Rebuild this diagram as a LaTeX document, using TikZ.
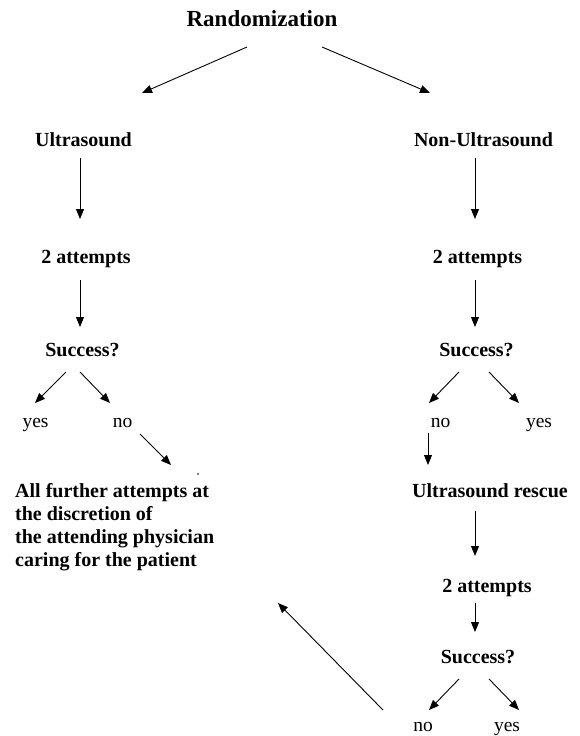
\documentclass[tikz,border=0pt]{standalone}
\usepackage{fontspec}
\setmainfont{Liberation Serif}
\usetikzlibrary{arrows.meta}
\begin{document}
\begin{tikzpicture}[x=1pt,y=-1pt,
  arr/.style={line width=0.9pt,-{Triangle[length=10pt,width=8pt]}},
  title/.style={anchor=base,inner sep=0pt,font=\fontsize{23}{27}\selectfont\bfseries},
  lab/.style={anchor=base,inner sep=0pt,font=\fontsize{20}{23}\selectfont\bfseries},
  ans/.style={anchor=base,inner sep=0pt,font=\fontsize{19.5}{23}\selectfont}]
\useasboundingbox (0,0) rectangle (579,736);
% nodes
\node[title] (rand) at (262,27) {Randomization};
\node[lab] (us) at (83.5,146) {Ultrasound};
\node[lab] (nus) at (483.5,146) {Non-Ultrasound};
\node[lab] (att1) at (86,263) {2 attempts};
\node[lab] (att2) at (477.5,263) {2 attempts};
\node[lab] (suc1) at (82.5,356) {Success?};
\node[lab] (suc2) at (476.5,356) {Success?};
\node[ans] (yes1) at (35.5,427) {yes};
\node[ans] (no1) at (122.5,427) {no};
\node[ans] (no2) at (440.5,427) {no};
\node[ans] (yes2) at (539,427) {yes};
\node[lab,anchor=north west,align=left,font=\fontsize{20}{23}\selectfont\bfseries] (disc) at (15,483.5)
  {All further attempts at\\the discretion of\\the attending physician\\caring for the patient};
\node[lab] (resc) at (490,497) {Ultrasound rescue};
\node[lab] (att3) at (487,592) {2 attempts};
\node[lab] (suc3) at (478,663) {Success?};
\node[ans] (no3) at (423,731) {no};
\node[ans] (yes3) at (507,731) {yes};
\fill (198,474) circle (0.8);
% connector end points
\coordinate (a1) at (247,47);  \coordinate (b1) at (142,93);
\coordinate (a2) at (322,47);  \coordinate (b2) at (430,93);
\coordinate (a3) at (80,158);  \coordinate (b3) at (80,219);
\coordinate (a4) at (475,158); \coordinate (b4) at (475,219);
\coordinate (a5) at (80,280);  \coordinate (b5) at (80,327);
\coordinate (a6) at (475,280); \coordinate (b6) at (475,327);
\coordinate (a7) at (66,372);  \coordinate (b7) at (35,403);
\coordinate (a8) at (80,372);  \coordinate (b8) at (110,403);
\coordinate (a9) at (459,372); \coordinate (b9) at (429,403);
\coordinate (a10) at (489,372); \coordinate (b10) at (519,403);
\coordinate (a11) at (140,434); \coordinate (b11) at (171,465);
\coordinate (a12) at (428,433); \coordinate (b12) at (428,465);
\coordinate (a13) at (475,511); \coordinate (b13) at (475,556);
\coordinate (a14) at (475,603); \coordinate (b14) at (475,632);
\coordinate (a15) at (459,679); \coordinate (b15) at (429,710);
\coordinate (a16) at (489,679); \coordinate (b16) at (519,710);
\coordinate (a17) at (383,710); \coordinate (b17) at (278,603);
% connectors
\foreach \i in {1,...,17} \draw[arr] (a\i) -- (b\i);
\end{tikzpicture}
\end{document}
